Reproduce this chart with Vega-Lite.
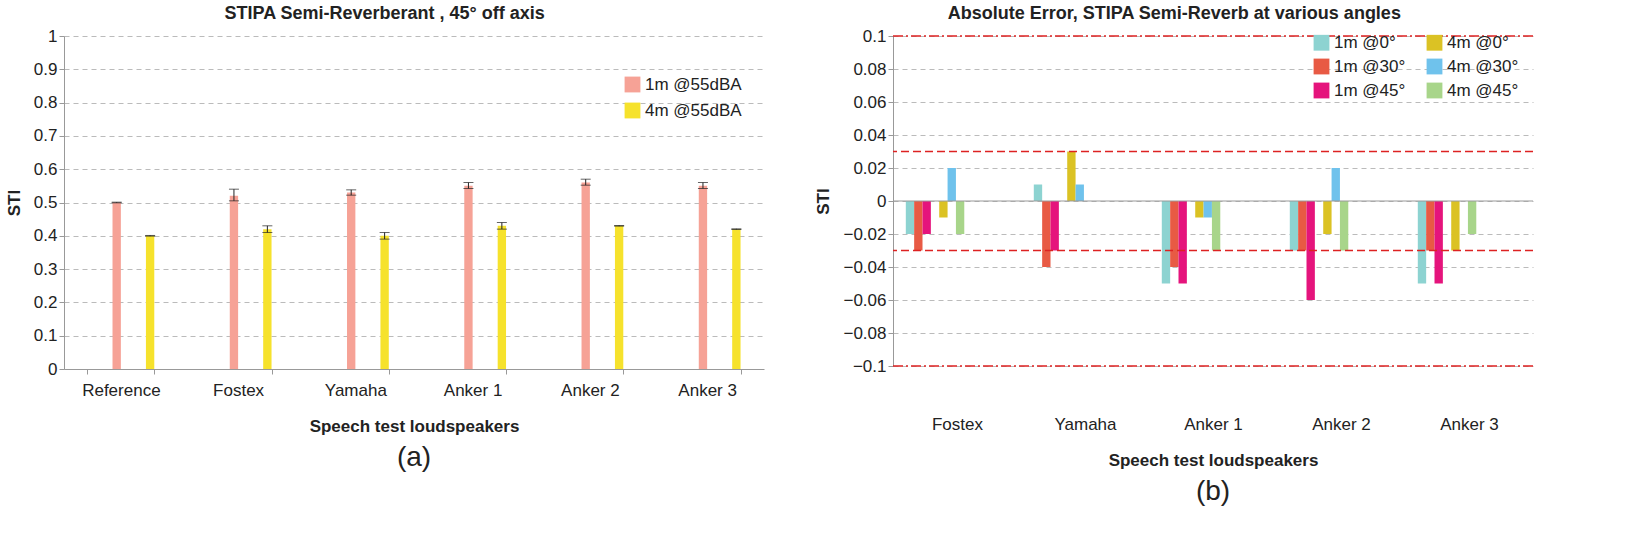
{
"$schema":"https://vega.github.io/schema/vega-lite/v6.json",
"background":"white",
"padding":{"left":5,"top":5,"right":5,"bottom":5},
"config":{"font":"Liberation Sans","view":{"stroke":null},
 "axis":{"labelFont":"Liberation Sans","labelFontSize":17,"labelColor":"#222","titleFont":"Liberation Sans","titleFontSize":17,"titleFontWeight":"bold","titleColor":"#222","domainColor":"#999","tickColor":"#999","gridColor":"#bbb","gridDash":[5,4]},
 "legend":{"labelFont":"Liberation Sans","labelFontSize":17,"labelColor":"#222","symbolType":"square","symbolSize":250,"symbolStrokeWidth":0},
 "title":{"font":"Liberation Sans","fontSize":18,"fontWeight":"bold","color":"#222"}},
"hconcat":[
 {"vconcat":[{
  "title":{"text":"(a)","orient":"bottom","fontSize":28,"fontWeight":"normal","offset":10},
  "width":700,"height":333,
  "data":{"values":[
   {"spk":"Reference","s":"1m @55dBA","v":0.50,"lo":0.499,"hi":0.501},
   {"spk":"Reference","s":"4m @55dBA","v":0.40,"lo":0.399,"hi":0.401},
   {"spk":"Fostex","s":"1m @55dBA","v":0.52,"lo":0.505,"hi":0.54},
   {"spk":"Fostex","s":"4m @55dBA","v":0.42,"lo":0.41,"hi":0.43},
   {"spk":"Yamaha","s":"1m @55dBA","v":0.53,"lo":0.522,"hi":0.538},
   {"spk":"Yamaha","s":"4m @55dBA","v":0.40,"lo":0.39,"hi":0.41},
   {"spk":"Anker 1","s":"1m @55dBA","v":0.55,"lo":0.542,"hi":0.56},
   {"spk":"Anker 1","s":"4m @55dBA","v":0.43,"lo":0.42,"hi":0.44},
   {"spk":"Anker 2","s":"1m @55dBA","v":0.56,"lo":0.552,"hi":0.57},
   {"spk":"Anker 2","s":"4m @55dBA","v":0.43,"lo":0.429,"hi":0.431},
   {"spk":"Anker 3","s":"1m @55dBA","v":0.55,"lo":0.542,"hi":0.56},
   {"spk":"Anker 3","s":"4m @55dBA","v":0.42,"lo":0.419,"hi":0.421}]},
  "encoding":{
   "x":{"field":"spk","type":"nominal","sort":null,"scale":{"paddingInner":0.43,"paddingOuter":0.2},"axis":{"labelAngle":0,"title":"Speech test loudspeakers","titlePadding":20,"tickBand":"extent","labelPadding":8}},
   "xOffset":{"field":"s","type":"nominal","scale":{"paddingInner":0,"paddingOuter":0}}},
  "layer":[
   {"mark":{"type":"bar","width":{"band":1}},"encoding":{
     "y":{"field":"v","type":"quantitative","scale":{"domain":[0,1]},"axis":{"title":"STI","tickCount":10,"titlePadding":10,"format":"~g"}},
     "color":{"field":"s","type":"nominal","scale":{"range":["#f6a296","#f6e22c"]},"legend":{"title":null,"orient":"none","legendX":560,"legendY":40,"rowPadding":8}}}},
   {"mark":{"type":"rule","color":"#222"},"encoding":{"y":{"field":"lo","type":"quantitative"},"y2":{"field":"hi"}}},
   {"mark":{"type":"tick","color":"#222","size":10,"thickness":1},"encoding":{"y":{"field":"lo","type":"quantitative"}}},
   {"mark":{"type":"tick","color":"#222","size":10,"thickness":1},"encoding":{"y":{"field":"hi","type":"quantitative"}}}
  ]}],
  "title":{"text":"STIPA Semi-Reverberant ,  45° off axis","anchor":"middle"}},
 {"vconcat":[{
  "title":{"text":"(b)","orient":"bottom","fontSize":28,"fontWeight":"normal","offset":10},
  "width":640,"height":330,
  "layer":[
   {"data":{"values":[
    {"spk":"Fostex","s":"1m @0°","v":-0.02},{"spk":"Fostex","s":"4m @0°","v":-0.01},{"spk":"Fostex","s":"1m @30°","v":-0.03},{"spk":"Fostex","s":"4m @30°","v":0.02},{"spk":"Fostex","s":"1m @45°","v":-0.02},{"spk":"Fostex","s":"4m @45°","v":-0.02},
    {"spk":"Yamaha","s":"1m @0°","v":0.01},{"spk":"Yamaha","s":"4m @0°","v":0.03},{"spk":"Yamaha","s":"1m @30°","v":-0.04},{"spk":"Yamaha","s":"4m @30°","v":0.01},{"spk":"Yamaha","s":"1m @45°","v":-0.03},{"spk":"Yamaha","s":"4m @45°","v":0},
    {"spk":"Anker 1","s":"1m @0°","v":-0.05},{"spk":"Anker 1","s":"4m @0°","v":-0.01},{"spk":"Anker 1","s":"1m @30°","v":-0.04},{"spk":"Anker 1","s":"4m @30°","v":-0.01},{"spk":"Anker 1","s":"1m @45°","v":-0.05},{"spk":"Anker 1","s":"4m @45°","v":-0.03},
    {"spk":"Anker 2","s":"1m @0°","v":-0.03},{"spk":"Anker 2","s":"4m @0°","v":-0.02},{"spk":"Anker 2","s":"1m @30°","v":-0.03},{"spk":"Anker 2","s":"4m @30°","v":0.02},{"spk":"Anker 2","s":"1m @45°","v":-0.06},{"spk":"Anker 2","s":"4m @45°","v":-0.03},
    {"spk":"Anker 3","s":"1m @0°","v":-0.05},{"spk":"Anker 3","s":"4m @0°","v":-0.03},{"spk":"Anker 3","s":"1m @30°","v":-0.03},{"spk":"Anker 3","s":"4m @30°","v":0},{"spk":"Anker 3","s":"1m @45°","v":-0.05},{"spk":"Anker 3","s":"4m @45°","v":-0.02}]},
    "mark":{"type":"bar","width":{"band":1}},
    "encoding":{
     "x":{"field":"spk","type":"nominal","sort":null,"scale":{"paddingInner":0.2,"paddingOuter":0.1},"axis":{"labelAngle":0,"title":"Speech test loudspeakers","titlePadding":20,"tickBand":"extent","labelPadding":50,"domain":false,"ticks":false}},
     "xOffset":{"field":"s","type":"nominal","sort":["1m @0°","4m @0°","1m @30°","4m @30°","1m @45°","4m @45°"],"scale":{"paddingInner":0,"paddingOuter":0}},
     "y":{"field":"v","type":"quantitative","scale":{"domain":[-0.1,0.1]},"axis":{"title":"STI","tickCount":10,"titlePadding":10,"format":"~g"}},
     "color":{"field":"s","type":"nominal","sort":["1m @0°","4m @0°","1m @30°","4m @30°","1m @45°","4m @45°"],"scale":{"range":["#8dd3d1","#dbc224","#e85a44","#6fc2ec","#e5147c","#a8d58a"]},"legend":{"title":null,"orient":"none","legendX":420,"legendY":-2,"columns":2,"columnPadding":20,"rowPadding":6,"direction":"horizontal"}}}},
   {"data":{"values":[{"y":0}]},"mark":{"type":"rule","color":"#999"},"encoding":{"y":{"field":"y","type":"quantitative"}}},
   {"data":{"values":[{"y":0.03},{"y":-0.03}]},"mark":{"type":"rule","color":"#d22","strokeDash":[8,4],"strokeWidth":1.3},"encoding":{"y":{"field":"y","type":"quantitative"}}},
   {"data":{"values":[{"y":0.1},{"y":-0.1}]},"mark":{"type":"rule","color":"#d22","strokeDash":[10,3,2,3],"strokeWidth":1.3},"encoding":{"y":{"field":"y","type":"quantitative"}}}
  ]}],
  "title":{"text":"Absolute Error, STIPA Semi-Reverb at various angles","anchor":"middle"}}
],
"spacing":50,
"resolve":{"scale":{"color":"independent"},"legend":{"color":"independent"}}
}
